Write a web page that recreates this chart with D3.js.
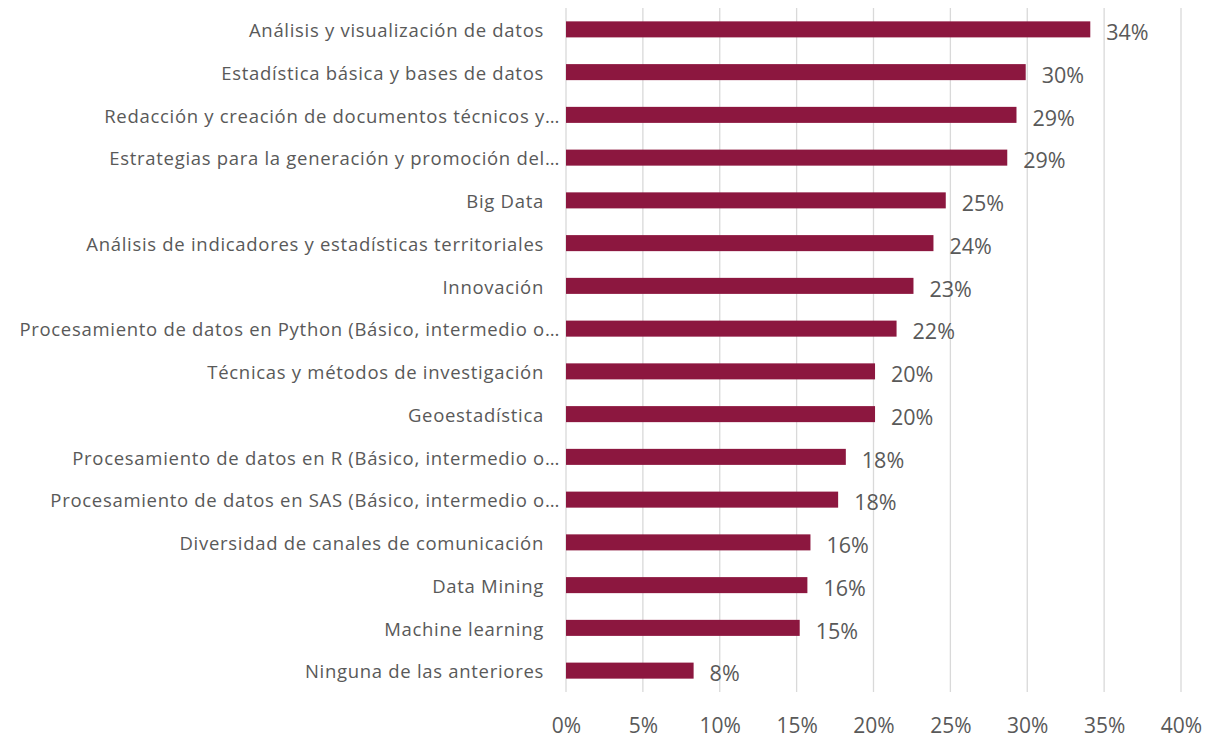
<!DOCTYPE html>
<html lang="es">
<head>
<meta charset="UTF-8">
<title>Temas de capacitación</title>
<script src="https://d3js.org/d3.v7.min.js"></script>
<style>
  body { margin: 0; background: #fff; }
  text { font-family: "Open Sans", "Noto Sans", sans-serif; fill: #595959; }
</style>
</head>
<body>
<div id="chart"></div>
<script>
// categories, top to bottom
const categories = [
  "Análisis y visualización de datos",
  "Estadística básica y bases de datos",
  "Redacción y creación de documentos técnicos y…",
  "Estrategias para la generación y promoción del…",
  "Big Data",
  "Análisis de indicadores y estadísticas territoriales",
  "Innovación",
  "Procesamiento de datos en Python (Básico, intermedio o…",
  "Técnicas y métodos de investigación",
  "Geoestadística",
  "Procesamiento de datos en R (Básico, intermedio o…",
  "Procesamiento de datos en SAS (Básico, intermedio o…",
  "Diversidad de canales de comunicación",
  "Data Mining",
  "Machine learning",
  "Ninguna de las anteriores"
];
// share of respondents (%)
const values = [34.1, 29.9, 29.3, 28.7, 24.7, 23.9, 22.6, 21.5, 20.1, 20.1, 18.2, 17.7, 15.9, 15.7, 15.2, 8.3];
const xTicks = [0, 5, 10, 15, 20, 25, 30, 35, 40];

const W = 1206, H = 738;
const margin = {top: 8, right: 25, bottom: 46, left: 566};
const width = W - margin.left - margin.right;
const height = H - margin.top - margin.bottom;

const svg = d3.select("#chart").append("svg")
    .attr("width", W).attr("height", H);
const g = svg.append("g")
    .attr("transform", `translate(${margin.left},${margin.top})`);

const x = d3.scaleLinear().domain([0, 40]).range([0, width]);
const y = d3.scaleBand().domain(categories).range([0, height]).paddingInner(0.625).paddingOuter(0.3125);

// vertical gridlines
g.append("g").selectAll("line")
  .data(xTicks)
  .join("line")
    .attr("x1", d => x(d)).attr("x2", d => x(d))
    .attr("y1", 0).attr("y2", height)
    .attr("stroke", "#d9d9d9").attr("stroke-width", 1.3);

// x axis labels
const xAxis = g.append("g")
    .attr("transform", `translate(0,${height})`)
    .call(d3.axisBottom(x).tickValues(xTicks).tickFormat(d => d + "%").tickSize(0).tickPadding(26));
xAxis.select(".domain").remove();
xAxis.selectAll("text").style("font-size", "21px").attr("fill", "#595959");

// bars
g.append("g").selectAll("rect")
  .data(values)
  .join("rect")
    .attr("x", 0)
    .attr("y", (d, i) => y(categories[i]))
    .attr("width", d => x(d))
    .attr("height", y.bandwidth())
    .attr("fill", "#8c173f");

// value labels
g.append("g").selectAll("text")
  .data(values)
  .join("text")
    .attr("x", d => x(d) + 16)
    .attr("y", (d, i) => y(categories[i]) + y.bandwidth() / 2)
    .attr("dy", "0.5em")
    .style("font-size", "21.5px")
    .text(d => Math.round(d) + "%");

// category labels
g.append("g").selectAll("text")
  .data(categories)
  .join("text")
    .attr("x", d => d.endsWith("…") ? -6 : -22)
    .attr("y", d => y(d) + y.bandwidth() / 2)
    .attr("dy", "0.42em")
    .attr("text-anchor", "end")
    .style("font-size", "18.5px")
    .style("letter-spacing", "0.7px")
    .text(d => d);
</script>
</body>
</html>
